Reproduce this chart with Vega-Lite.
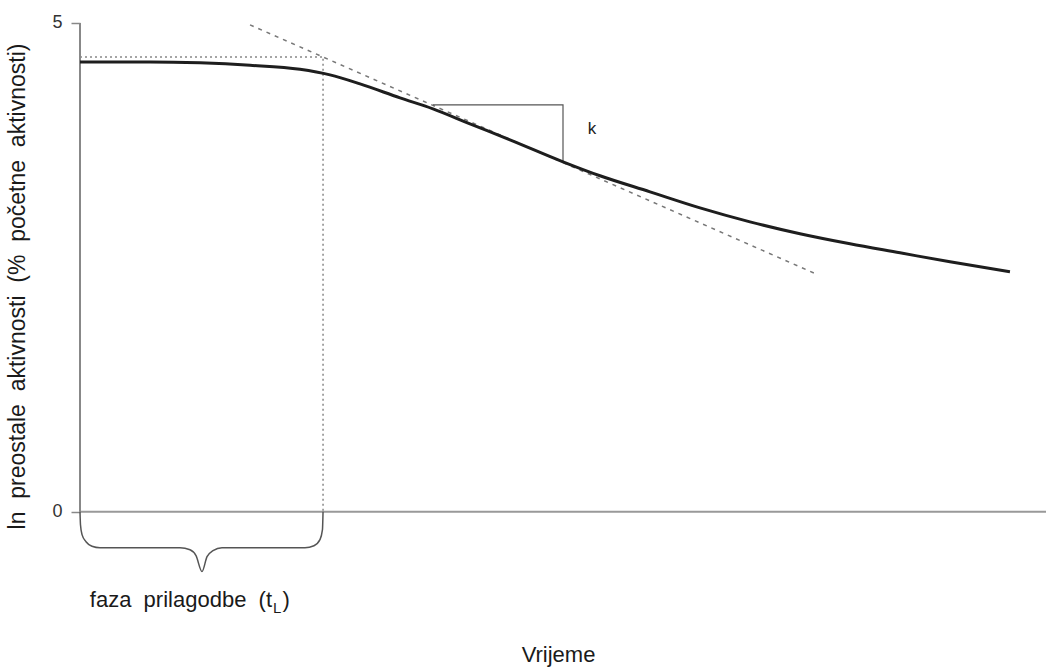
{
  "$schema": "https://vega.github.io/schema/vega-lite/v6.json",
  "autosize": "none",
  "width": 966,
  "height": 611,
  "padding": {"left": 80, "top": 18, "right": 0, "bottom": 41},
  "background": "white",
  "config": {
    "font": "Liberation Sans",
    "view": {"stroke": null}
  },
  "encoding": {
    "x": {"field": "x", "type": "quantitative", "scale": {"domain": [0, 100], "nice": false, "zero": false},
      "axis": {"title": "Vrijeme", "domain": false, "ticks": false, "labels": false, "grid": false, "titleFontSize": 22, "titleFontWeight": "normal", "titleColor": "#1a1a1a", "titlePadding": 15, "titleX": 478}},
    "y": {"field": "y", "type": "quantitative", "scale": {"domain": [-1.2, 5.05], "nice": false, "zero": false},
      "axis": {"title": "ln\u00a0\u00a0preostale\u00a0\u00a0aktivnosti\u00a0\u00a0(%\u00a0\u00a0početne\u00a0\u00a0aktivnosti)", "values": [0, 5], "domain": false, "grid": false, "tickSize": 9, "tickColor": "#888", "tickWidth": 1.5, "labelFontSize": 18, "labelColor": "#333", "labelPadding": 9, "titleFontSize": 23, "titleFontWeight": "normal", "titleColor": "#1a1a1a", "titleX": -51, "titleY": 268, "titleAnchor": "middle"}}
  },
  "layer": [
    {
      "data": {"values": [{"x": 0, "y": 0}, {"x": 100, "y": 0}]},
      "mark": {"type": "line", "color": "#999", "strokeWidth": 2},
      "encoding": {}
    },
    {
      "data": {"values": [{"x": 0, "y": 0}, {"x": 0, "y": 5}]},
      "mark": {"type": "line", "color": "#888", "strokeWidth": 2},
      "encoding": {}
    },
    {
      "data": {"values": [{"x": 0, "y": 4.652}, {"x": 25.16, "y": 4.652}, {"x": 25.16, "y": 0}]},
      "mark": {"type": "line", "color": "#888", "strokeWidth": 1.5, "strokeDash": [2, 3]},
      "encoding": {"order": {"value": null}}
    },
    {
      "data": {"values": [{"x": 17.6, "y": 4.98}, {"x": 76.4, "y": 2.423}]},
      "mark": {"type": "line", "color": "#777", "strokeWidth": 1.5, "strokeDash": [4, 5]},
      "encoding": {}
    },
    {
      "data": {"values": [{"x": 36.54, "y": 4.162}, {"x": 50.0, "y": 4.162}, {"x": 50.0, "y": 3.58}]},
      "mark": {"type": "line", "color": "#555", "strokeWidth": 1.2},
      "encoding": {"order": {"value": null}}
    },
    {
      "data": {"values": [
        {"x": 0, "y": 4.601}, {"x": 7.25, "y": 4.601}, {"x": 12.42, "y": 4.591}, {"x": 17.6, "y": 4.566},
        {"x": 22.77, "y": 4.525}, {"x": 25.88, "y": 4.468}, {"x": 28.99, "y": 4.376}, {"x": 33.13, "y": 4.233},
        {"x": 36.54, "y": 4.121}, {"x": 40.37, "y": 3.967}, {"x": 44.51, "y": 3.804}, {"x": 50.0, "y": 3.579},
        {"x": 53.83, "y": 3.436}, {"x": 59.01, "y": 3.272}, {"x": 64.18, "y": 3.108}, {"x": 69.36, "y": 2.965},
        {"x": 74.53, "y": 2.843}, {"x": 79.71, "y": 2.74}, {"x": 84.89, "y": 2.648}, {"x": 90.06, "y": 2.556},
        {"x": 96.27, "y": 2.454}
      ]},
      "mark": {"type": "line", "color": "#1e1e1e", "strokeWidth": 3, "interpolate": "monotone"},
      "encoding": {}
    },
    {
      "data": {"values": [
        {"i": 1, "x": 0, "y": 0}, {"i": 2, "x": 0.05, "y": -0.133}, {"i": 3, "x": 0.21, "y": -0.235},
        {"i": 4, "x": 0.62, "y": -0.307}, {"i": 5, "x": 1.24, "y": -0.353}, {"i": 6, "x": 2.07, "y": -0.368},
        {"i": 7, "x": 10.35, "y": -0.368}, {"i": 8, "x": 11.39, "y": -0.389}, {"i": 9, "x": 12.01, "y": -0.45},
        {"i": 10, "x": 12.63, "y": -0.613}, {"i": 11, "x": 13.15, "y": -0.46}, {"i": 12, "x": 13.77, "y": -0.399},
        {"i": 13, "x": 14.7, "y": -0.368}, {"i": 14, "x": 23.29, "y": -0.368}, {"i": 15, "x": 24.22, "y": -0.348},
        {"i": 16, "x": 24.84, "y": -0.286}, {"i": 17, "x": 25.1, "y": -0.184}, {"i": 18, "x": 25.16, "y": 0}
      ]},
      "mark": {"type": "line", "color": "#555", "strokeWidth": 1.5, "interpolate": "monotone"},
      "encoding": {"order": {"field": "i", "type": "quantitative"}}
    },
    {
      "data": {"values": [{"x": 52.99, "y": 3.916, "t": "k"}]},
      "mark": {"type": "text", "fontSize": 17, "align": "center", "baseline": "middle", "color": "#222"},
      "encoding": {"text": {"field": "t"}}
    },
    {
      "data": {"values": [{"x": 19.88, "y": -0.971, "t": "faza\u00a0\u00a0prilagodbe\u00a0\u00a0(t"}]},
      "mark": {"type": "text", "fontSize": 22, "align": "right", "baseline": "alphabetic", "color": "#1a1a1a"},
      "encoding": {"text": {"field": "t"}}
    },
    {
      "data": {"values": [{"x": 20.96, "y": -0.971, "t": ")"}]},
      "mark": {"type": "text", "fontSize": 22, "align": "left", "baseline": "alphabetic", "color": "#1a1a1a"},
      "encoding": {"text": {"field": "t"}}
    },
    {
      "data": {"values": [{"x": 19.98, "y": -1.033, "t": "L"}]},
      "mark": {"type": "text", "fontSize": 15, "align": "left", "baseline": "alphabetic", "color": "#1a1a1a"},
      "encoding": {"text": {"field": "t"}}
    }
  ]
}
